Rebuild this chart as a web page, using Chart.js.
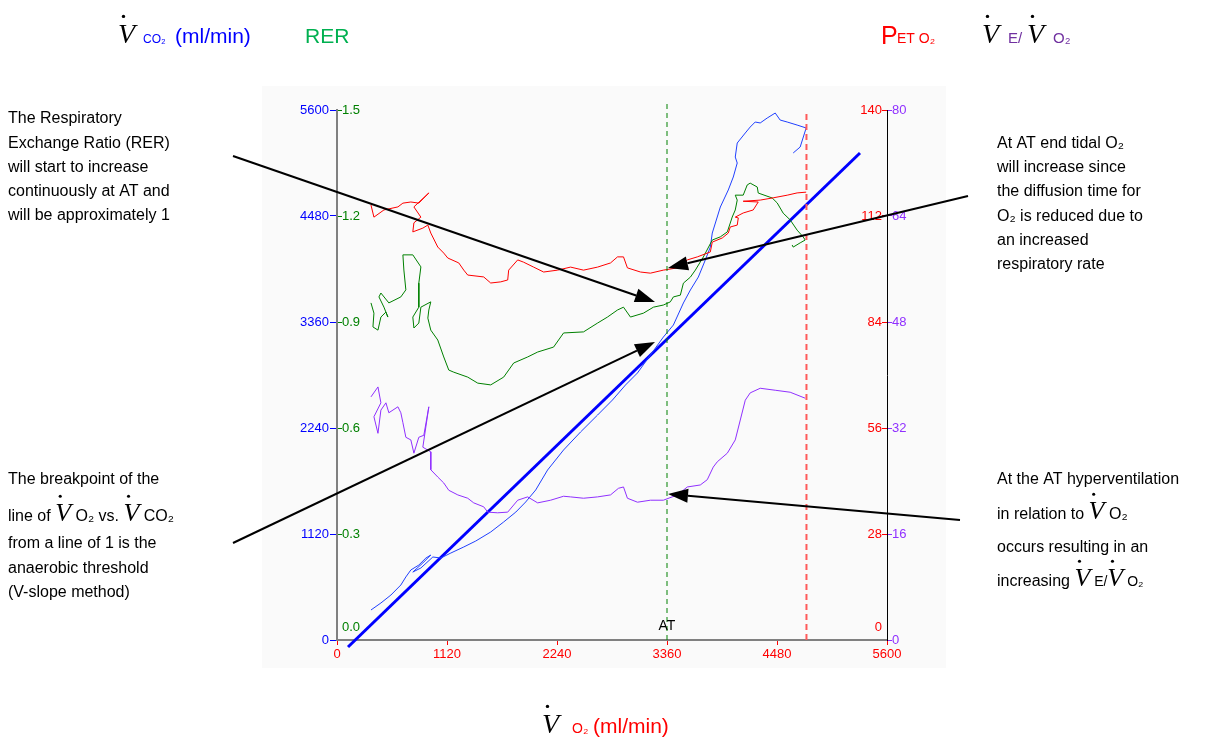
<!DOCTYPE html>
<html>
<head>
<meta charset="utf-8">
<script src="https://cdn.jsdelivr.net/npm/chart.js@4.4.0/dist/chart.umd.min.js"></script>
<style>
html, body { margin: 0; padding: 0; background: #fff; }
#wrap { width: 1212px; height: 740px; position: relative; }
</style>
</head>
<body>
<div id="wrap"><canvas id="chart"></canvas></div>
<script>
// VCO2 vs VO2 (thin blue trace), ml/min
const vco2X = [346,447,549,650,701,752,833,905,955,874,772,854,976,1057,1159,1291,1413,1565,1697,1821,1921,2023,2144,2307,2480,2653,2805,2937,3059,3191,3323,3425,3527,3598,3679,3750,3801,3821,3903,3984,4035,4075,4055,4075,4157,4207,4258,4309,4380,4462,4512,4584,4685,4777,4716,4645];
const vco2Y = [317,391,475,581,666,740,792,866,898,814,718,761,877,866,919,983,1046,1141,1247,1352,1458,1585,1796,2008,2198,2377,2536,2694,2821,3011,3201,3328,3561,3698,3835,4015,4152,4300,4575,4755,4892,5040,5103,5251,5357,5420,5473,5463,5515,5568,5494,5473,5441,5410,5209,5146];

// line of slope 1 (thick blue)
const slopeX = [112, 5325];
const slopeY = [-74, 5146];

// PET O2 (mmHg)
const petX = [346,376,478,620,671,752,833,935,783,854,783,772,874,925,955,1026,1087,1128,1240,1291,1331,1494,1565,1667,1738,1748,1840,1900,2002,2104,2246,2378,2510,2653,2785,2856,2917,2957,3090,3191,3323,3466,3567,3669,3801,3821,3923,3984,4004,4075,4086,4055,4136,4238,4289,4136,4309,4441,4584,4685,4777];
const petY = [114.9,111.7,113.6,114.4,115.4,115.7,115.4,118.1,114.4,111.7,110.2,107.8,108.8,109.6,107.5,103.8,102.2,100.9,99.6,97.7,96.4,95.9,94.3,94.6,95.1,97.7,100.4,99.8,98.5,97.2,97.7,98.5,97.7,98.5,99.6,101.2,101.2,98.3,97.2,96.9,97.7,98.3,100.4,101.2,102.5,105.1,106.2,107.5,109.1,109.6,111.5,111.7,112.8,113.6,115.7,115.9,116.2,116.8,117.5,118.1,118.3];

// RER
const rerX = [346,376,366,417,447,498,518,478,427,447,528,650,701,681,671,772,854,833,833,772,783,833,854,955,935,925,955,1026,1087,1138,1189,1331,1433,1565,1697,1799,1941,2043,2205,2307,2510,2653,2754,2856,2917,2988,3120,3222,3323,3394,3425,3496,3527,3598,3649,3730,3821,3903,3974,4004,4024,4055,4075,4055,4136,4177,4207,4279,4289,4431,4482,4543,4614,4685,4746,4767,4716,4645,4634];
const rerY = [0.954,0.925,0.886,0.877,0.914,0.928,0.914,0.942,0.971,0.982,0.954,0.971,0.991,1.047,1.090,1.090,1.056,1.010,0.942,0.914,0.883,0.897,0.942,0.957,0.934,0.911,0.877,0.849,0.801,0.764,0.758,0.744,0.727,0.722,0.744,0.784,0.801,0.815,0.829,0.869,0.872,0.897,0.914,0.934,0.942,0.914,0.925,0.942,0.948,0.957,0.971,0.976,1.010,1.027,1.047,1.084,1.132,1.141,1.155,1.180,1.197,1.217,1.245,1.259,1.259,1.288,1.293,1.282,1.265,1.251,1.237,1.208,1.189,1.160,1.141,1.132,1.124,1.112,1.118];

// VE/VO2
const veX = [346,417,447,376,417,447,498,528,620,650,671,701,752,783,833,884,935,874,955,955,1026,1087,1138,1230,1331,1392,1494,1535,1636,1738,1840,1941,2043,2175,2307,2378,2510,2653,2785,2866,2917,2957,3059,3191,3323,3466,3567,3699,3770,3831,3872,3974,4055,4106,4157,4207,4309,4462,4614,4767];
const veY = [36.7,38.2,35.8,33.7,31.2,34.7,35.8,34.3,35.2,34.3,32.8,30.6,30.2,28.2,30.6,30.9,35.2,29.1,28.4,25.7,24.6,23.7,22.6,21.9,21.4,20.7,20.1,19.3,19.2,19.3,21.1,21.6,20.7,21.1,21.7,21.6,21.4,21.6,21.9,22.9,23.1,21.4,20.8,21.1,21.1,21.9,23.1,23.4,24.2,26.1,26.9,28.2,30.2,33.2,36.2,37.3,38.0,37.7,37.4,36.5];

// markers: AT and end of test (VO2), with the VCO2 heights of the dashed lines
const atVO2 = 3360;
const endVO2 = 4780;
const atTop = 5680;
const endTop = 5600;

const BLUE = '#0000ff', RED = '#ff0000', GREEN = '#008000', PURPLE = '#9030ff';
const SANS = '"Liberation Sans", Arial, sans-serif';
const SERIF = '"Liberation Serif", "Times New Roman", serif';

const pts = (xs, ys) => xs.map((x, i) => ({ x: x, y: ys[i] }));

function line(data, axis, color, width, extra) {
    return Object.assign({
        data: data,
        yAxisID: axis,
        showLine: true,
        borderColor: color,
        backgroundColor: color,
        borderWidth: width,
        pointRadius: 0,
        tension: 0,
        fill: false
    }, extra || {});
}

// V with a dot over it
function vdot(ctx, x, y, size) {
    ctx.font = 'italic ' + size + 'px ' + SERIF;
    ctx.fillStyle = '#000';
    ctx.fillText('V', x, y);
    const w = ctx.measureText('V').width;
    ctx.beginPath();
    ctx.arc(x + w * 0.32, y - size * 0.95, size * 0.06, 0, Math.PI * 2);
    ctx.fill();
    return w;
}

// parts: string (16px black) | {v:size} | {t, s, c}
function rich(ctx, x, y, parts) {
    parts.forEach(p => {
        if (typeof p === 'string') p = { t: p };
        if (p.v) { x += vdot(ctx, x, y, p.v); return; }
        ctx.font = (p.s || 16) + 'px ' + SANS;
        ctx.fillStyle = p.c || '#000';
        ctx.fillText(p.t, x, y);
        x += ctx.measureText(p.t).width;
    });
}

function arrow(ctx, x1, y1, x2, y2) {
    const a = Math.atan2(y2 - y1, x2 - x1);
    const len = 20, hw = 7;
    const bx = x2 - Math.cos(a) * len, by = y2 - Math.sin(a) * len;
    ctx.strokeStyle = '#000';
    ctx.fillStyle = '#000';
    ctx.lineWidth = 2;
    ctx.beginPath();
    ctx.moveTo(x1, y1);
    ctx.lineTo(bx, by);
    ctx.stroke();
    ctx.beginPath();
    ctx.moveTo(x2, y2);
    ctx.lineTo(bx + Math.sin(a) * hw, by - Math.cos(a) * hw);
    ctx.lineTo(bx - Math.sin(a) * hw, by + Math.cos(a) * hw);
    ctx.closePath();
    ctx.fill();
}

const overlay = {
    id: 'overlay',
    beforeDraw(chart) {
        const ctx = chart.ctx;
        ctx.save();
        ctx.fillStyle = '#fff';
        ctx.fillRect(0, 0, chart.width, chart.height);
        ctx.fillStyle = '#fafafa';
        ctx.fillRect(262, 86, 684, 582);
        ctx.restore();
    },
    afterDraw(chart) {
        const ctx = chart.ctx;
        const xs = chart.scales.x;
        ctx.save();
        ctx.textBaseline = 'alphabetic';
        ctx.textAlign = 'left';

        // AT label
        ctx.font = '14px ' + SANS;
        ctx.fillStyle = '#000';
        ctx.textAlign = 'center';
        ctx.fillText('AT', xs.getPixelForValue(atVO2), 630);
        ctx.textAlign = 'left';

        // headers
        vdot(ctx, 118, 43, 28);
        rich(ctx, 143, 43, [{ t: 'CO₂', s: 12, c: BLUE }]);
        rich(ctx, 175, 43, [{ t: '(ml/min)', s: 21, c: BLUE }]);
        rich(ctx, 305, 43, [{ t: 'RER', s: 21, c: '#00b050' }]);
        rich(ctx, 881, 44, [{ t: 'P', s: 25, c: RED }]);
        rich(ctx, 897, 43, [{ t: 'ET O₂', s: 14, c: RED }]);
        vdot(ctx, 982, 43, 28);
        rich(ctx, 1008, 43, [{ t: 'E/', s: 15, c: '#7030a0' }]);
        vdot(ctx, 1027, 43, 28);
        rich(ctx, 1053, 43, [{ t: 'O₂', s: 15, c: '#7030a0' }]);
        vdot(ctx, 542, 733, 28);
        rich(ctx, 572, 733, [{ t: 'O₂', s: 14, c: RED }]);
        rich(ctx, 593, 733, [{ t: '(ml/min)', s: 21, c: RED }]);

        // annotations
        const lt = ['The Respiratory', 'Exchange Ratio (RER)', 'will start to increase', 'continuously at AT and', 'will be approximately 1'];
        [123, 148, 172, 196, 220].forEach((y, i) => rich(ctx, 8, y, [lt[i]]));

        rich(ctx, 8, 484, ['The breakpoint of the']);
        rich(ctx, 8, 521, ['line of ', { v: 26 }, ' O₂ vs. ', { v: 26 }, ' CO₂']);
        rich(ctx, 8, 548, ['from a line of 1 is the']);
        rich(ctx, 8, 573, ['anaerobic threshold']);
        rich(ctx, 8, 597, ['(V-slope method)']);

        const rt = ['At AT end tidal O₂', 'will increase since', 'the diffusion time for', 'O₂ is reduced due to', 'an increased', 'respiratory rate'];
        [148, 172, 196, 221, 245, 269].forEach((y, i) => rich(ctx, 997, y, [rt[i]]));

        rich(ctx, 997, 484, ['At the AT hyperventilation']);
        rich(ctx, 997, 519, ['in relation to ', { v: 26 }, ' O₂']);
        rich(ctx, 997, 552, ['occurs resulting in an']);
        rich(ctx, 997, 586, ['increasing ', { v: 26 }, { t: ' E/', s: 14 }, { v: 26 }, { t: ' O₂', s: 14 }]);

        arrow(ctx, 233, 156, 655, 302);
        arrow(ctx, 233, 543, 655, 342);
        arrow(ctx, 968, 196, 668, 268);
        arrow(ctx, 960, 520, 668, 494);
        ctx.restore();
    }
};

const tickFont = { family: SANS, size: 13 };
const plain = v => String(v);

new Chart(document.getElementById('chart'), {
    type: 'scatter',
    data: {
        datasets: [
            line([{ x: atVO2, y: 0 }, { x: atVO2, y: atTop }], 'y', GREEN, 1, { borderDash: [5, 4], clip: false }),
            line([{ x: endVO2, y: 0 }, { x: endVO2, y: endTop }], 'y', '#ff5a5a', 2, { borderDash: [6, 4] }),
            line(pts(petX, petY), 'yPET', RED, 1),
            line(pts(rerX, rerY), 'yRER', GREEN, 1),
            line(pts(veX, veY), 'yVE', PURPLE, 1),
            line(pts(vco2X, vco2Y), 'y', '#2040ff', 1),
            line(pts(slopeX, slopeY), 'y', BLUE, 3, { clip: false })
        ]
    },
    options: {
        responsive: true,
        maintainAspectRatio: false,
        animation: false,
        events: [],
        layout: { padding: { left: 297, right: 285, top: 110, bottom: 70 } },
        plugins: { legend: { display: false }, tooltip: { enabled: false } },
        scales: {
            x: {
                type: 'linear', min: 0, max: 5600,
                ticks: { stepSize: 1120, color: RED, font: tickFont, padding: 2, maxRotation: 0, callback: plain },
                grid: { drawOnChartArea: false, color: RED, tickLength: 5 },
                border: { color: '#808080', width: 2 },
                afterFit: s => { s.height = 30; }
            },
            y: {
                position: 'left', weight: 1, min: 0, max: 5600,
                ticks: { stepSize: 1120, color: BLUE, font: tickFont, padding: 1, callback: plain },
                grid: { drawOnChartArea: false, color: BLUE, tickLength: 7 },
                border: { color: '#808080', width: 2 },
                afterFit: s => { s.width = 40; }
            },
            yRER: {
                position: 'left', weight: 0, min: 0, max: 1.5,
                ticks: {
                    stepSize: 0.3, color: GREEN, font: { family: SANS, size: 13, lineHeight: 1 }, padding: 5, mirror: true,
                    callback: v => v === 0 ? ['0.0', '', ''] : v.toFixed(1)
                },
                grid: { drawOnChartArea: false, color: GREEN, tickLength: -5 },
                border: { display: false },
                afterFit: s => { s.width = 0; }
            },
            yPET: {
                position: 'right', weight: 0, min: 0, max: 140,
                ticks: {
                    stepSize: 28, color: RED, font: { family: SANS, size: 13, lineHeight: 1 }, padding: -5, mirror: true,
                    callback: v => v === 0 ? ['0', '', ''] : String(v)
                },
                grid: { drawOnChartArea: false, color: RED, tickLength: -5 },
                border: { color: '#000', width: 1 },
                afterFit: s => { s.width = 0; }
            },
            yVE: {
                position: 'right', weight: 1, min: 0, max: 80,
                ticks: { stepSize: 16, color: PURPLE, font: tickFont, padding: 0, callback: plain },
                grid: { drawOnChartArea: false, color: PURPLE, tickLength: 5 },
                border: { display: false },
                afterFit: s => { s.width = 40; }
            }
        }
    },
    plugins: [overlay]
});
</script>
</body>
</html>
